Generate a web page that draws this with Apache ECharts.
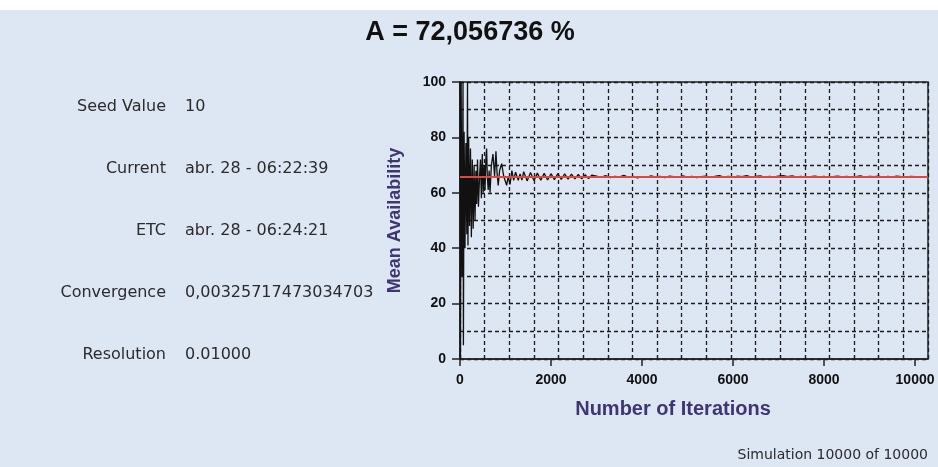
<!DOCTYPE html>
<html>
<head>
<meta charset="utf-8">
<title>Mean Availability</title>
<script src="https://cdn.jsdelivr.net/npm/echarts@6.0.0/dist/echarts.min.js"></script>
<style>
    body { margin: 0; padding: 0; background: #fff; }
    #chart {
        width: 938px; height: 467px;
        background: linear-gradient(#ffffff 0px, #ffffff 10px, #dde6f3 10px, #dde6f3 100%);
    }
</style>
</head>
<body>
<div id="chart"></div>
<script type="text/javascript">
// values
var iterations = [
    1, 10, 25, 45, 66, 75, 90, 110, 130, 150, 165, 175, 190, 210, 230, 250, 270, 290, 310, 330,
    350, 366, 385, 405, 430, 450, 470, 490, 510, 530, 550, 570, 585, 600, 620, 640, 660, 690, 725, 760,
    790, 815, 840, 870, 915, 960, 1000, 1025, 1060, 1100, 1140, 1180, 1220, 1245, 1280, 1320, 1360,
    1400, 1475, 1550, 1625, 1700, 1775, 1850, 1925, 2000, 2075, 2150, 2225, 2300, 2375, 2450, 2525,
    2600, 2675, 2750, 2825, 2900,
    3000, 3100, 3200, 3300, 3400, 3500, 3600, 3700, 3800, 3900, 4000, 4100, 4200, 4300, 4400, 4500,
    4600, 4700, 4800, 4900, 5000, 5100, 5200, 5300, 5400, 5500, 5600, 5700, 5800, 5900, 6000, 6100,
    6200, 6300, 6400, 6500, 6600, 6700, 6800, 6900, 7000, 7100, 7200, 7300, 7400, 7500, 7600, 7700,
    7800, 7900, 8000, 8100, 8200, 8300, 8400, 8500, 8600, 8700, 8800, 8900, 9000, 9100, 9200, 9300,
    9400, 9500, 9600, 9700, 9800, 9900, 10000
];
var meanAvailability = [
    100, 0, 100, 30, 100, 5, 82, 40, 78, 45, 100, 41, 80, 48, 76, 44, 72, 47, 70, 50,
    68, 56, 72, 55, 66, 72, 58, 74, 60, 70, 61, 73, 76, 66, 61, 68, 60, 70, 74, 66,
    75, 67, 62.7, 68, 70.5, 66, 64, 62.7, 66, 63, 68, 64.5, 67.5, 68.1, 64.5, 66.8, 64.6,
    67.6, 64.3, 67.3, 64.4, 67.1, 64.5, 67.0, 64.6, 66.9, 64.7, 66.9, 64.8, 66.8, 64.9, 66.7, 65.0,
    66.6, 65.0, 66.5, 65.1, 66.4,
    66.0, 65.6, 66.2, 65.5, 65.9, 65.7, 66.3, 65.6, 65.9, 65.4, 65.8, 65.6, 66.1, 65.7, 65.9, 65.5,
    66.0, 65.8, 65.6, 66.1, 65.7, 65.9, 65.5, 65.8, 66.0, 65.6, 65.9, 66.2, 65.7, 65.9, 65.6, 66.0,
    65.8, 66.2, 65.7, 65.9, 66.1, 65.6, 65.9, 65.7, 66.0, 66.2, 65.8, 66.1, 65.7, 65.9, 65.6, 65.8,
    66.0, 65.7, 65.9, 65.6, 65.8, 66.0, 65.7, 65.9, 65.6, 65.8, 66.1, 65.7, 65.9, 65.8, 66.0, 65.6,
    65.9, 65.7, 66.0, 65.8, 65.6, 65.9, 65.8
];
var targetAvailability = 65.7;
var xTickValues = [0, 2000, 4000, 6000, 8000, 10000];
var gridDivisions = 19;

var titleText = 'A = 72,056736 %';
var infoLabels = ['Seed Value', 'Current', 'ETC', 'Convergence', 'Resolution'];
var infoValues = ['10', 'abr. 28 - 06:22:39', 'abr. 28 - 06:24:21', '0,00325717473034703', '0.01000'];
var footerText = 'Simulation 10000 of 10000';

var seriesData = iterations.map(function (it, i) { return [it, meanAvailability[i]]; });

var dash = { color: '#1c1c1c', width: 1.3, type: [4, 3] };
var nameColor = '#3f3573';
var infoFont = '16px "DejaVu Sans", sans-serif';

var graphics = [];
var rowY = [107, 169, 231, 293, 355];
infoLabels.forEach(function (lab, i) {
    graphics.push({ type: 'text', x: 166, y: rowY[i],
        style: { text: lab, font: infoFont, fill: '#2b2b2b', align: 'right', verticalAlign: 'middle' } });
    graphics.push({ type: 'text', x: 185, y: rowY[i],
        style: { text: infoValues[i], font: infoFont, fill: '#2b2b2b', align: 'left', verticalAlign: 'middle' } });
});
graphics.push({ type: 'text', x: 928, y: 455,
    style: { text: footerText, font: '14px "DejaVu Sans", sans-serif', fill: '#2b2b2b',
        align: 'right', verticalAlign: 'middle' } });
graphics.push({ type: 'text', x: 470, y: 33,
    style: { text: titleText, font: 'bold 27px "Liberation Sans", sans-serif', fill: '#111',
        align: 'center', verticalAlign: 'middle' } });

var option = {
    backgroundColor: 'transparent',
    animation: false,
    graphic: graphics,
    grid: {
        left: 460, right: 10, top: 82, bottom: 108,
        show: true, borderColor: '#222', borderWidth: 1.5, backgroundColor: 'transparent'
    },
    xAxis: [{
        type: 'value', min: 0, max: 10285,
        name: 'Number of Iterations', nameLocation: 'middle', nameGap: 40,
        nameTextStyle: { fontFamily: 'Liberation Sans', fontWeight: 'bold', fontSize: 20,
            color: nameColor, padding: [0, 42, 0, 0] },
        axisLine: { lineStyle: { color: '#222', width: 1.5 } },
        axisTick: { customValues: xTickValues, length: 7, lineStyle: { color: '#222', width: 1.5 } },
        axisLabel: { customValues: xTickValues, color: '#111', fontWeight: 'bold',
            fontFamily: 'Liberation Sans', fontSize: 14, margin: 14,
            formatter: function (v) { return String(v); } },
        splitLine: { show: false }
    }, {
        type: 'value', min: 0, max: gridDivisions, interval: 1, position: 'bottom',
        axisLine: { show: false },
        axisTick: { show: true, inside: true, length: 4, lineStyle: { color: '#222', width: 1.2 } },
        axisLabel: { show: false },
        splitLine: { show: true, lineStyle: dash }
    }],
    yAxis: {
        type: 'value', min: 0, max: 100, interval: 20,
        name: 'Mean Availability', nameLocation: 'middle', nameGap: 56,
        nameTextStyle: { fontFamily: 'Liberation Sans', fontWeight: 'bold', fontSize: 18, color: nameColor },
        axisLine: { show: true, lineStyle: { color: '#222', width: 1.5 } },
        axisTick: { show: true, length: 8, lineStyle: { color: '#222', width: 1.5 } },
        axisLabel: { color: '#111', fontWeight: 'bold', fontFamily: 'Liberation Sans', fontSize: 14, margin: 14 },
        splitLine: { show: true, lineStyle: dash },
        minorTick: { show: false, splitNumber: 2 },
        minorSplitLine: { show: true, lineStyle: dash }
    },
    series: [{
        type: 'line',
        data: seriesData,
        showSymbol: false,
        lineStyle: { color: '#111', width: 1.3 },
        markLine: {
            silent: true, symbol: 'none', label: { show: false },
            lineStyle: { color: '#e0483c', width: 2, type: 'solid' },
            data: [{ yAxis: targetAvailability }]
        }
    }]
};

var myChart = echarts.init(document.getElementById('chart'));
myChart.setOption(option);
</script>
</body>
</html>
